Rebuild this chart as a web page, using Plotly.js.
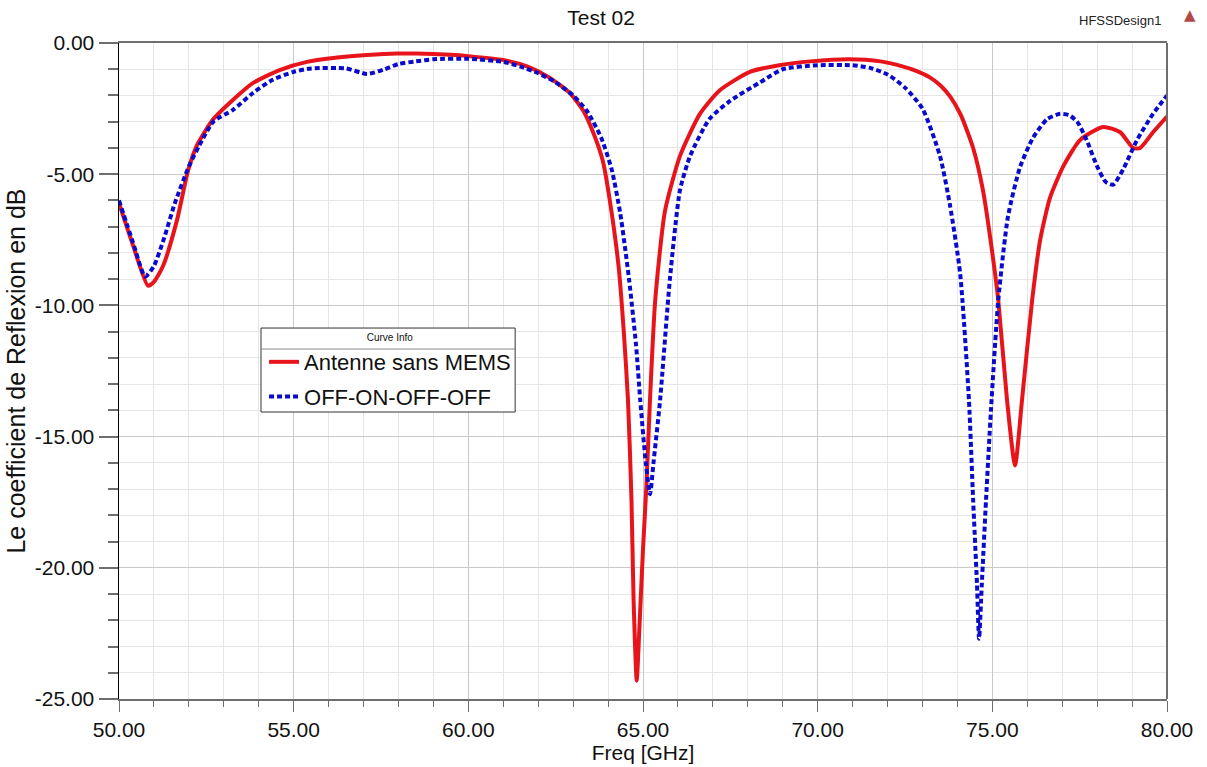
<!DOCTYPE html>
<html>
<head>
<meta charset="utf-8">
<script src="https://cdn.plot.ly/plotly-3.0.1.min.js"></script>
<style>
  html, body { margin: 0; padding: 0; background: #ffffff; }
  #chart { width: 1207px; height: 767px; }
</style>
</head>
<body>
<div id="chart"></div>
<script>
// Series 1: Antenne sans MEMS
const freqRed = [50, 50.4, 50.83, 51.0, 51.26, 51.66, 51.98, 52.23, 52.7, 53.26, 53.84, 54.6, 55.38, 56.13, 57.1, 57.95,
  58.5, 59.5, 60.0, 61.0, 61.7, 62.3, 62.9, 63.3, 63.6, 63.85, 64.05, 64.3, 64.45, 64.57, 64.67, 64.73, 64.82,
  64.89, 65.0, 65.1, 65.2, 65.35, 65.63, 66.06, 66.63, 67.2, 68.06, 68.9, 69.8, 70.9, 71.8, 72.4, 72.8, 73.2, 73.5,
  73.8, 74.1, 74.45, 74.73, 75.02, 75.17, 75.42, 75.65, 75.85, 76.14, 76.37, 76.65, 77.03, 77.51, 78.17,
  78.66, 79.03, 79.23, 79.6, 80.0];
const s11Red = [-6.1, -7.7, -9.25, -9.1, -8.5, -6.75, -4.85, -3.9, -2.9, -2.17, -1.52, -1.03, -0.72, -0.57, -0.46, -0.4,
  -0.4, -0.45, -0.5, -0.65, -0.9, -1.3, -1.9, -2.6, -3.5, -4.5, -6.0, -8.5, -11.0, -13.6, -17.4, -21.2, -24.3,
  -22.5, -19.3, -16.8, -13.6, -9.8, -6.4, -4.3, -2.7, -1.8, -1.1, -0.85, -0.7, -0.62, -0.7, -0.88, -1.05, -1.3, -1.6,
  -2.05, -2.75, -4.0, -5.6, -8.2, -9.8, -13.6, -16.1, -13.6, -9.8, -7.5, -5.9, -4.7, -3.7, -3.2,
  -3.4, -4.0, -4.0, -3.4, -2.8];

// Series 2: OFF-ON-OFF-OFF
const freqBlue = [50, 50.4, 50.75, 51.0, 51.3, 51.6, 52.0, 52.3, 52.7, 53.26, 53.84, 54.4, 55.0, 55.5, 56.5, 57.1, 57.6,
  58.0, 58.5, 59.0, 60.0, 61.0, 61.5, 62.0, 62.5, 63.0, 63.4, 63.8, 64.1, 64.35, 64.6, 64.8, 64.92, 65.08, 65.2,
  65.3, 65.49, 65.77, 66.06, 66.35, 66.9, 67.5, 68.35, 69.0, 70.0, 71.0, 71.5, 72.0, 72.5, 73.0, 73.5, 73.79,
  74.08, 74.33, 74.45, 74.56, 74.62, 74.7, 74.82, 74.96, 75.17, 75.45, 75.8, 76.17, 76.57, 76.94, 77.2, 77.43,
  77.7, 78.0, 78.25, 78.46, 78.75, 79.14, 79.6, 80.0];
const s11Blue = [-6.0, -7.6, -8.9, -8.5, -7.4, -6.1, -4.7, -3.9, -3.0, -2.55, -1.9, -1.4, -1.1, -0.97, -0.97, -1.18, -1.0,
  -0.8, -0.7, -0.62, -0.6, -0.72, -0.9, -1.15, -1.5, -2.0, -2.6, -3.6, -4.8, -6.5, -9.0, -11.5, -13.6, -16.0, -17.2,
  -16.0, -13.6, -9.0, -5.6, -4.3, -2.9, -2.2, -1.5, -1.0, -0.85, -0.85, -0.95, -1.2, -1.7, -2.5, -4.3, -6.2,
  -8.8, -13.6, -17.4, -20.6, -22.7, -20.6, -17.4, -14.0, -9.8, -6.6, -4.7, -3.6, -2.9, -2.7, -2.75, -3.0,
  -3.7, -4.7, -5.3, -5.4, -4.8, -3.7, -2.7, -2.0];

const seriesNames = ['Antenne sans MEMS', 'OFF-ON-OFF-OFF'];
const xTickVals = [50, 55, 60, 65, 70, 75, 80];
const xTickText = ['50.00', '55.00', '60.00', '65.00', '70.00', '75.00', '80.00'];
const yTickVals = [-25, -20, -15, -10, -5, 0];
const yTickText = ['-25.00', '-20.00', '-15.00', '-10.00', '-5.00', '0.00'];

const FONT = 'Liberation Sans, Arial, sans-serif';

const traces = [
  {
    x: freqRed, y: s11Red, name: seriesNames[0], type: 'scatter', mode: 'lines', legendgroup: 'a',
    line: { color: '#e8141b', width: 4, shape: 'spline', smoothing: 0.6 }
  },
  {
    x: freqBlue, y: s11Blue, name: seriesNames[1], type: 'scatter', mode: 'lines', legendgroup: 'b',
    line: { color: '#0a0acc', width: 4, dash: '5px,3px', shape: 'spline', smoothing: 0.6 }
  }
];

const layout = {
  width: 1207, height: 767,
  paper_bgcolor: '#ffffff', plot_bgcolor: '#ffffff',
  margin: { l: 119, r: 40, t: 43, b: 68 },
  font: { family: FONT, color: '#111111' },
  title: {
    text: 'Test 02', font: { family: FONT, size: 21, color: '#111111' },
    xref: 'paper', x: 0.46, xanchor: 'center', yref: 'container', y: 0.977, yanchor: 'middle'
  },
  xaxis: {
    range: [50, 80], tickvals: xTickVals, ticktext: xTickText,
    title: { text: 'Freq [GHz]', font: { family: FONT, size: 21 }, standoff: 2 },
    tickfont: { family: FONT, size: 21 },
    showline: true, linecolor: '#6e6e6e', linewidth: 2, mirror: true,
    ticks: 'outside', ticklen: 11, tickcolor: '#6e6e6e', tickwidth: 1,
    showgrid: true, gridcolor: '#c9c9c9', gridwidth: 1, zeroline: false,
    minor: { dtick: 1, ticks: 'outside', ticklen: 6, tickcolor: '#6e6e6e', showgrid: true, gridcolor: '#e6e6e6', gridwidth: 1 }
  },
  yaxis: {
    range: [-25, 0], tickvals: yTickVals, ticktext: yTickText,
    title: { text: 'Le coefficient de Reflexion en dB', font: { family: FONT, size: 25 }, standoff: 2 },
    tickfont: { family: FONT, size: 21 },
    showline: true, linecolor: '#000000', linewidth: 1.5, mirror: false,
    ticks: 'outside', ticklen: 19, tickcolor: '#6e6e6e', tickwidth: 2,
    showgrid: true, gridcolor: '#c9c9c9', gridwidth: 1, zeroline: false,
    minor: { dtick: 1, ticks: 'outside', ticklen: 10, tickcolor: '#6e6e6e', showgrid: true, gridcolor: '#e6e6e6', gridwidth: 1 }
  },
  legend: {
    x: 0.1384, y: 0.5655, xanchor: 'left', yanchor: 'top',
    bgcolor: 'rgba(0,0,0,0)', borderwidth: 0,
    font: { family: FONT, size: 22, color: '#111111' },
    title: { text: 'Curve Info', side: 'top center', font: { family: FONT, size: 10, color: '#111111' } },
    tracegroupgap: 3
  },
  shapes: [
    { type: 'line', xref: 'paper', yref: 'paper', x0: 1, x1: 1, y0: 0, y1: 1, line: { color: '#6e6e6e', width: 2 } },
    { type: 'rect', xref: 'paper', yref: 'paper', x0: 0.1355, x1: 0.378, y0: 0.4375, y1: 0.5655,
      fillcolor: '#ffffff', line: { color: '#333333', width: 1 }, layer: 'above' },
    { type: 'line', xref: 'paper', yref: 'paper', x0: 0.1355, x1: 0.378, y0: 0.5335, y1: 0.5335,
      line: { color: '#888888', width: 1 }, layer: 'above' }
  ],
  annotations: [
    { text: 'HFSSDesign1', xref: 'paper', yref: 'paper', x: 0.955, y: 1.035, xanchor: 'center', yanchor: 'middle',
      showarrow: false, font: { family: FONT, size: 13, color: '#222222' } },
    { text: '▲', xref: 'paper', yref: 'paper', x: 1.022, y: 1.042, xanchor: 'center', yanchor: 'middle',
      showarrow: false, font: { family: 'DejaVu Sans, sans-serif', size: 15, color: '#b04a4a' } }
  ],
  showlegend: true
};

Plotly.newPlot('chart', traces, layout, { displayModeBar: false, staticPlot: true });
</script>
</body>
</html>
